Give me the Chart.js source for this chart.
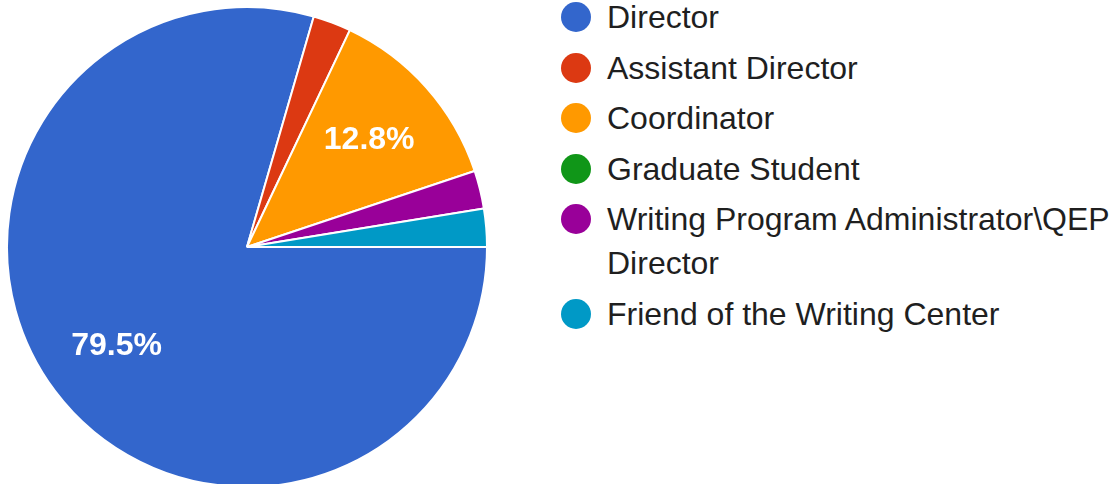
<!DOCTYPE html>
<html>
<head>
<meta charset="utf-8">
<script src="https://cdn.jsdelivr.net/npm/chart.js@4.4.1/dist/chart.umd.min.js"></script>
<style>
  html, body { margin: 0; padding: 0; background: #fff; overflow: hidden; }
  body { width: 1117px; height: 484px; position: relative; font-family: "Liberation Sans", Arial, sans-serif; }
  #pie-wrap { position: absolute; left: 6px; top: 6px; width: 482px; height: 482px; }
  #legend { position: absolute; left: 561px; top: -5px; width: 556px; margin: 0; padding: 0; list-style: none; }
  #legend li { display: flex; align-items: flex-start; margin-bottom: 6.5px; }
  #legend .dot { width: 30px; height: 30px; border-radius: 50%; flex: none; margin-top: 7px; margin-right: 16px; }
  #legend .txt { font-size: 32px; line-height: 44px; color: #1f1f1f; width: 505px; white-space: normal; }
</style>
</head>
<body>
<div id="pie-wrap"><canvas id="pie"></canvas></div>
<ul id="legend"></ul>
<script>
const labels = ['Director', 'Assistant Director', 'Coordinator', 'Graduate Student', 'Writing Program Administrator\\QEP Director', 'Friend of the Writing Center'];
const responses = [31, 1, 5, 0, 1, 1];
const colors = ['#3366cc', '#dc3912', '#ff9900', '#109618', '#990099', '#0099c6'];

// percent labels inside the bigger slices
const sliceLabels = {
    id: 'sliceLabels',
    afterDatasetsDraw(chart) {
        const ctx = chart.ctx;
        const total = responses.reduce((a, b) => a + b, 0);
        const arcs = chart.getDatasetMeta(0).data;
        ctx.save();
        ctx.fillStyle = '#fff';
        ctx.font = 'bold 32px "Liberation Sans", Arial, sans-serif';
        ctx.textAlign = 'center';
        ctx.textBaseline = 'middle';
        arcs.forEach((arc, i) => {
            const pct = responses[i] / total * 100;
            if (pct < 5) return;
            const mid = (arc.startAngle + arc.endAngle) / 2;
            const r = arc.outerRadius * 0.68;
            ctx.fillText(pct.toFixed(1) + '%', arc.x + Math.cos(mid) * r, arc.y + Math.sin(mid) * r + 1);
        });
        ctx.restore();
    }
};

new Chart(document.getElementById('pie'), {
    type: 'pie',
    data: {
        labels: labels,
        datasets: [{
            data: responses,
            backgroundColor: colors,
            borderColor: '#fff',
            borderWidth: 2,
            hoverOffset: 0
        }]
    },
    options: {
        responsive: true,
        maintainAspectRatio: false,
        animation: false,
        rotation: 90,
        plugins: {
            legend: { display: false },
            tooltip: { enabled: false }
        }
    },
    plugins: [sliceLabels]
});

const legend = document.getElementById('legend');
labels.forEach((label, i) => {
    const li = document.createElement('li');
    li.innerHTML = `<span class="dot" style="background:${colors[i]}"></span><span class="txt"></span>`;
    li.querySelector('.txt').textContent = label;
    legend.appendChild(li);
});
</script>
</body>
</html>
